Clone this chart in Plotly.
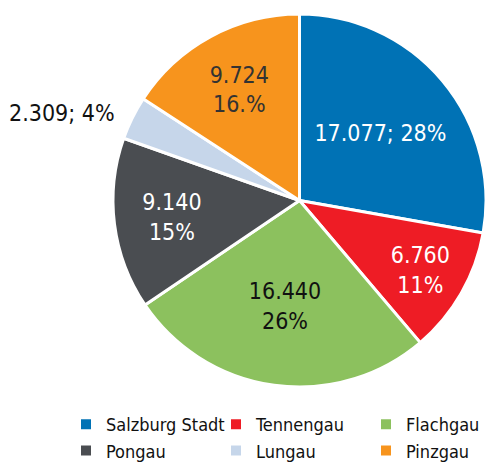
import plotly.graph_objects as go

regions = ["Salzburg Stadt", "Tennengau", "Flachgau", "Pongau", "Lungau", "Pinzgau"]
values = [17077, 6760, 16440, 9140, 2309, 9724]
percents = [28, 11, 26, 15, 4, 16]
colors = ["#0072b5", "#ee1c25", "#8cc15e", "#4a4d51", "#c6d6ea", "#f7941d"]
text_colors = ["#ffffff", "#ffffff", "#111111", "#ffffff", "#111111", "#333333"]
templates = ["%{value:,.0f}; %{customdata}%", "%{value:,.0f}<br>%{customdata}%",
             "%{value:,.0f}<br>%{customdata}%", "%{value:,.0f}<br>%{customdata}%",
             "", "%{value:,.0f}<br>%{customdata}.%"]
positions = ["inside", "inside", "inside", "inside", "none", "inside"]

FONT = "DejaVu Sans Condensed, DejaVu Sans, sans-serif"
W, H = 486, 467

fig = go.Figure(go.Pie(
    labels=regions, values=values, customdata=percents,
    sort=False, direction="clockwise", rotation=0,
    marker=dict(colors=colors, line=dict(color="#ffffff", width=3)),
    texttemplate=templates, textposition=positions,
    insidetextorientation="horizontal",
    insidetextfont=dict(color=text_colors, size=23, family=FONT),
    domain=dict(x=[113 / W, 1.0], y=[1 - 388 / H, 1 - 13 / H]),
    hoverinfo="label+value",
))

# outside label for the small Lungau slice
i = regions.index("Lungau")
fig.add_annotation(
    x=62 / W, y=1 - 113 / H, xref="paper", yref="paper",
    xanchor="center", yanchor="middle",
    text=f"{values[i]:,}".replace(",", ".") + f"; {percents[i]}%",
    showarrow=False, font=dict(size=23, family=FONT, color="#111111"),
)

fig.update_layout(
    width=W, height=H,
    margin=dict(l=0, r=0, t=0, b=0, autoexpand=False),
    paper_bgcolor="white", plot_bgcolor="white",
    separators=",.",
    font=dict(family=FONT, color="#111111"),
    legend=dict(orientation="h", x=66 / W, xanchor="left", y=1 - 406 / H, yanchor="top",
                font=dict(size=18, family=FONT, color="#111111"),
                entrywidth=105, entrywidthmode="pixels", tracegroupgap=0,
                itemsizing="constant"),
)

fig.write_html("out.html", config={"displayModeBar": False},
               post_script="document.body.style.margin='0';document.body.style.overflow='hidden';")
